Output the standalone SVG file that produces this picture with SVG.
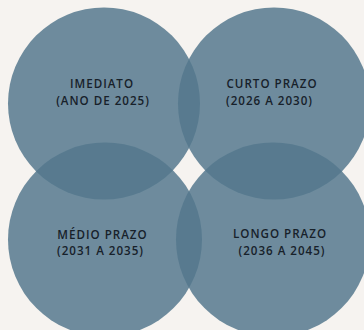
<svg xmlns="http://www.w3.org/2000/svg" width="364" height="330" viewBox="0 0 364 330">
<style>
.c{fill:#53778d;fill-opacity:0.84}
.t{font-family:"Open Sans","Liberation Sans",sans-serif;font-size:11.6px;font-weight:600;fill:#17212a;letter-spacing:1px;text-anchor:middle}
</style>
<rect width="364" height="330" fill="#f6f3f0"/>
<g id="node-imediato"><circle class="c" cx="104" cy="103.5" r="96"/></g>
<g id="node-curto"><circle class="c" cx="274" cy="103.5" r="96"/></g>
<g id="node-medio"><circle class="c" cx="105" cy="239.5" r="97"/></g>
<g id="node-longo"><circle class="c" cx="273" cy="239.5" r="97"/></g>
<g id="connectors"></g>
<g id="labels">
<text class="t" x="102" y="88">IMEDIATO</text>
<text class="t" x="103" y="104.5">(ANO DE 2025)</text>
<text class="t" x="272" y="88">CURTO PRAZO</text>
<text class="t" x="269.5" y="104.5">(2026 A 2030)</text>
<text class="t" x="102.5" y="238.5">MÉDIO PRAZO</text>
<text class="t" x="100.5" y="255">(2031 A 2035)</text>
<text class="t" x="280" y="238">LONGO PRAZO</text>
<text class="t" x="282" y="255">(2036 A 2045)</text>
</g>
</svg>
